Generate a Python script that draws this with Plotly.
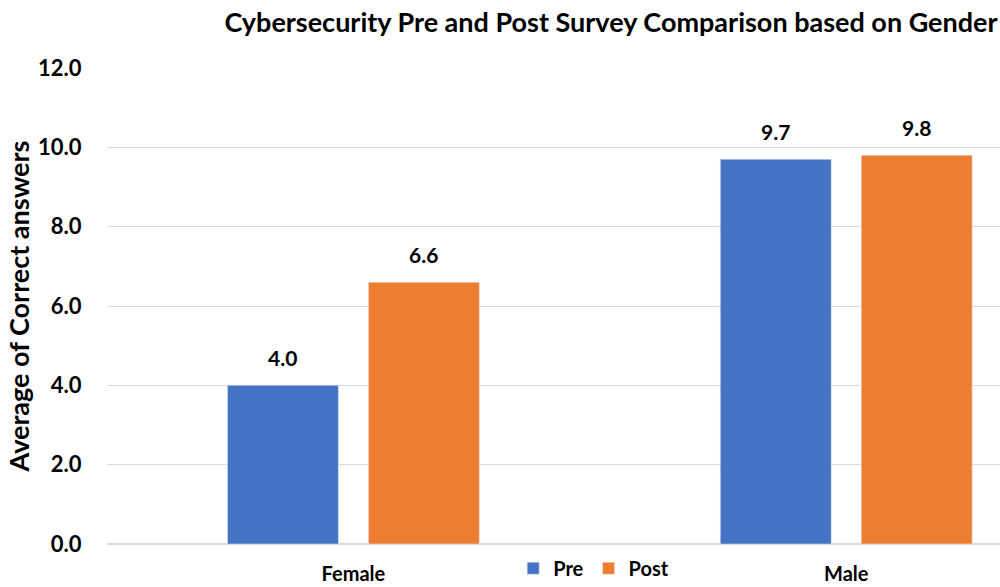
import plotly.graph_objects as go

categories = ["Female", "Male"]
pre_values = [4.0, 9.7]
post_values = [6.6, 9.8]
series_names = ["Pre", "Post"]
y_ticks = [0, 2, 4, 6, 8, 10, 12]
y_tick_labels = ["0.0", "2.0", "4.0", "6.0", "8.0", "10.0", "12.0"]

FONT = "Lato"
BLUE = "#4472C4"
ORANGE = "#ED7D31"

fig = go.Figure()
series = [(series_names[0], pre_values, BLUE, -70.5), (series_names[1], post_values, ORANGE, 70.5)]
for name, vals, col, shift in series:
    fig.add_trace(go.Bar(x=categories, y=vals, name=name, marker_color=col))
    for c, v in zip(categories, vals):
        fig.add_annotation(x=c, y=v, xref="x", yref="y", text=f"<b>{v:.1f}</b>",
                           showarrow=False, xshift=shift, yshift=13, yanchor="bottom",
                           font=dict(family=FONT, size=21, color="#000000"))

fig.update_layout(
    width=1000, height=587,
    margin=dict(l=107, r=0, t=68, b=43, autoexpand=False),
    paper_bgcolor="white", plot_bgcolor="white",
    barmode="group", bargap=0.428, bargroupgap=0.213,
    title=dict(text="<b>Cybersecurity Pre and Post Survey Comparison based on Gender</b>",
               x=0.611, xanchor="center", y=0.962, yanchor="middle",
               font=dict(family=FONT, size=27, color="#000000")),
    font=dict(family=FONT, color="#000000"),
    legend=dict(orientation="h", x=0.545, xanchor="center",
                yref="container", y=0.032, yanchor="middle",
                font=dict(family=FONT, size=20, color="#000000", weight="bold"),
                bgcolor="rgba(0,0,0,0)", traceorder="normal"),
    yaxis=dict(range=[0, 12], tickvals=y_ticks, ticktext=[f"<b>{t}</b>" for t in y_tick_labels],
               tickfont=dict(family=FONT, size=22, color="#000000"),
               gridcolor="#D9D9D9", gridwidth=1, zeroline=True, zerolinecolor="#D9D9D9",
               ticks="outside", ticklen=20, tickcolor="rgba(0,0,0,0)", automargin=False,
               title=dict(text="<b>Average of Correct answers</b>", standoff=0,
                          font=dict(family=FONT, size=27, color="#000000"))),
    xaxis=dict(type="category", range=[-0.5, 1.312], tickvals=categories,
               ticktext=[f"<b>{c}</b>" for c in categories],
               tickfont=dict(family=FONT, size=20, color="#000000"),
               ticks="outside", ticklen=12, tickcolor="rgba(0,0,0,0)",
               showline=False, automargin=False),
)

fig.write_html("out.html")
